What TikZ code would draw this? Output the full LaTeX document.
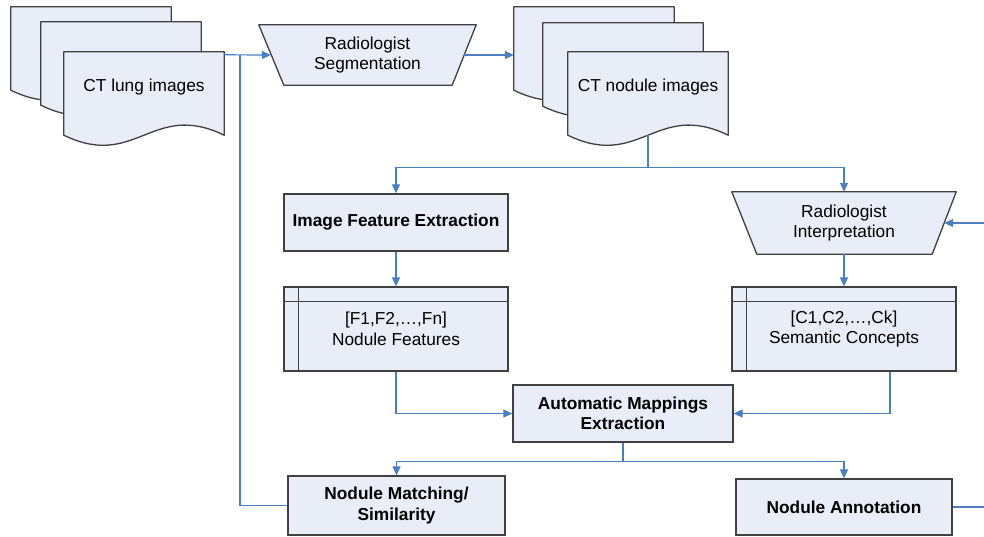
\documentclass[tikz,border=0pt]{standalone}
\usepackage{fontspec}
\setmainfont{Liberation Sans}
\usetikzlibrary{arrows.meta,calc}
\pgfdeclarelayer{background}
\pgfsetlayers{background,main}
\definecolor{boxfill}{RGB}{232,237,247}
\definecolor{boxline}{RGB}{64,64,64}
\definecolor{connblue}{RGB}{74,126,195}
\tikzset{
  lbl/.style={inner sep=0pt, align=center, font=\fontsize{17.3}{20.5}\selectfont},
  boldlbl/.style={inner sep=0pt, align=center, font=\bfseries\fontsize{17.3}{20.5}\selectfont},
  docframe/.style={lbl, minimum width=160pt, minimum height=70pt},
  shapesty/.style={draw=boxline, fill=boxfill, line width=1.3pt, line join=round},
  procbox/.style={boldlbl, draw=boxline, fill=boxfill, line width=1.3pt},
  subbox/.style={lbl, draw=boxline, fill=boxfill, line width=1.3pt},
  conn/.style={draw=connblue, line width=1.2pt},
  arr/.style={conn, -{Triangle[length=9pt,width=8pt]}},
}
\begin{document}
\begin{tikzpicture}[x=1pt,y=-1pt]
\useasboundingbox (0,0) rectangle (984,536);

% document stacks (frames carry the text)
\node[docframe] (lungA) at (91,42) {};
\node[docframe] (lungB) at (121,57) {};
\node[docframe] (lung) at (144,87) {CT lung images};
\node[docframe] (nodA) at (594,42) {};
\node[docframe] (nodB) at (623,58) {};
\node[docframe] (nod) at (648,87) {CT nodule images};

% manual-input trapezoids
\node[lbl, minimum width=217pt, minimum height=60pt] (seg) at (367.5,55) {Radiologist\\Segmentation};
\node[lbl, minimum width=224pt, minimum height=62pt] (interp) at (844,223) {Radiologist\\Interpretation};

\begin{pgfonlayer}{background}
\foreach \n in {lungA,lungB,lung,nodA,nodB,nod}{
  \path[shapesty] (\n.north west) -- (\n.north east) -- ([yshift=-13pt]\n.south east)
    .. controls +(-72,-35) and +(72,35) .. ([yshift=-13pt]\n.south west) -- cycle;
}
\path[shapesty] (seg.north west) -- (seg.north east) -- ([xshift=-24pt]seg.south east)
  -- ([xshift=25pt]seg.south west) -- cycle;
\path[shapesty] (interp.north west) -- (interp.north east) -- ([xshift=-24pt]interp.south east)
  -- ([xshift=25pt]interp.south west) -- cycle;
\end{pgfonlayer}

% process boxes
\node[procbox, minimum width=224pt, minimum height=57pt] (ife) at (396,222.5) {Image Feature Extraction};
\node[subbox, minimum width=224pt, minimum height=84pt] (nf) at (396,329) {[F1,F2,…,Fn]\\Nodule Features};
\node[subbox, minimum width=224pt, minimum height=84pt] (sc) at (844,329) {[C1,C2,…,Ck]\\Semantic Concepts};
\node[procbox, minimum width=220pt, minimum height=57pt] (ame) at (623,413.5) {Automatic Mappings\\Extraction};
\node[procbox, minimum width=217pt, minimum height=59pt] (match) at (396.5,505.5) {Nodule Matching/\\Similarity};
\node[procbox, minimum width=216pt, minimum height=56pt] (annot) at (844,507) {Nodule Annotation};

% subroutine inner lines
\foreach \n in {nf,sc}{
  \draw[draw=boxline, line width=1.3pt] ([xshift=15pt]\n.north west) -- ([xshift=15pt]\n.south west);
  \draw[draw=boxline, line width=1.3pt] ([yshift=-15pt]\n.north west) -- ([yshift=-15pt]\n.north east);
}

% free ends
\coordinate (j1) at (240,55);
\coordinate (inR) at (984,223);
\coordinate (outR) at (984,507);

% connectors
\draw[arr] ([yshift=-3pt]lung.north east) -- ([xshift=12pt]seg.west);
\draw[conn] (match.west) -| (j1);
\draw[arr] ([xshift=-12pt]seg.east) -- (seg.east -| nodA.west);
\draw[arr] ([yshift=-13pt]nod.south) -- ++(0,32) -| (ife.north);
\draw[arr] ([yshift=-13pt]nod.south) -- ++(0,32) -| (interp.north);
\draw[arr] (ife.south) -- (nf.north);
\draw[arr] (interp.south) -- (sc.north);
\draw[arr] (nf.south) |- (ame.west);
\draw[arr] ([xshift=46pt]sc.south) |- (ame.east);
\draw[arr] (ame.south) -- ++(0,19) -| (match.north);
\draw[arr] (ame.south) -- ++(0,19) -| (annot.north);
\draw[conn] (annot.east) -- (outR);
\draw[arr] (inR) -- ([xshift=-12pt]interp.east);
\end{tikzpicture}
\end{document}
